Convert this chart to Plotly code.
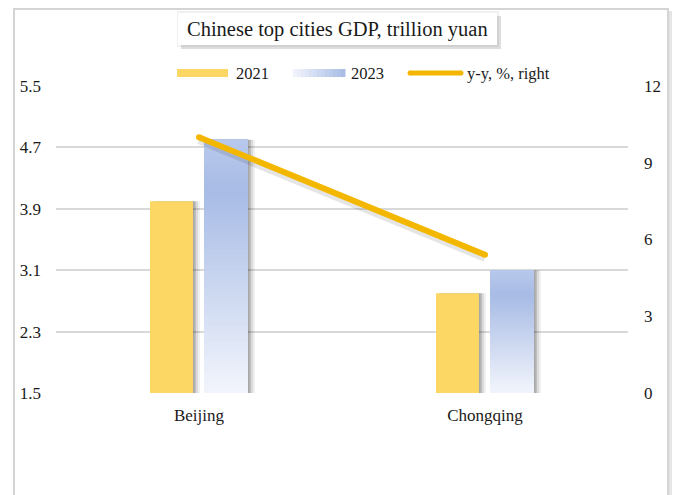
import plotly.graph_objects as go

# ---------------- data ----------------
cities = ["Beijing", "Chongqing"]
gdp_2021 = [4.0, 2.8]
gdp_2023 = [4.8, 3.1]
yoy = [10.0, 5.4]

y_ticks_left = [1.5, 2.3, 3.1, 3.9, 4.7, 5.5]
y_ticks_right = [0, 3, 6, 9, 12]

title_text = "Chinese top cities GDP, trillion yuan"
legend_labels = ["2021", "2023", "y-y, %, right"]

# ---------------- style ----------------
W, H = 675, 495
ML, MR, MT, MB = 56, 47, 86, 102
PW, PH = W - ML - MR, H - MT - MB
FONT = "Liberation Serif"
YELLOW = "#FDD764"
GOLD = "#F4B700"
GRID = "#d9d9d9"
BASE = 1.5
PX = PW / 2.0  # px per category unit

def px2x(px):
    return (px - ML) / PW

def px2y(py):
    return (MT + PH - py) / PH

o21, w21 = -49 / PX, 43 / PX
o23, w23 = 5 / PX, 44 / PX

def lerp(c1, c2, t):
    return tuple(round(a + (b - a) * t) for a, b in zip(c1, c2))

C_BOT = (242, 245, 252)
C_MID = (167, 187, 229)
C_TOP = (185, 201, 236)

def grad_color(f):
    if f <= 0.8:
        c = lerp(C_BOT, C_MID, f / 0.8)
    else:
        c = lerp(C_MID, C_TOP, (f - 0.8) / 0.2)
    return "rgb(%d,%d,%d)" % c

fig = go.Figure()

# bar shadows
for k, a in [(7, 0.06), (5, 0.09), (3, 0.12), (1.5, 0.12)]:
    fig.add_trace(go.Bar(
        x=cities + cities, y=[v - BASE for v in gdp_2021 + gdp_2023], base=BASE,
        offset=[o21 + k / PX] * 2 + [o23 + k / PX] * 2,
        width=[w21] * 2 + [w23] * 2,
        marker=dict(color="rgba(0,0,0,%.2f)" % a, line=dict(width=0)),
        showlegend=False, hoverinfo="skip"))

# 2021 bars
fig.add_trace(go.Bar(
    x=cities, y=[v - BASE for v in gdp_2021], base=BASE, offset=o21, width=w21,
    marker=dict(color=YELLOW, line=dict(width=0)), name="2021", showlegend=False))

# 2023 bars with vertical gradient: nested layers, each from a level up to the bar top
N = 60
gx, gy, gb, gc = [], [], [], []
for i in range(N):
    for ci, v in enumerate(gdp_2023):
        lo = BASE + (v - BASE) * i / N
        gx.append(cities[ci])
        gb.append(lo)
        gy.append(v - lo)
        gc.append(grad_color((i + 0.5) / N))
fig.add_trace(go.Bar(
    x=gx, y=gy, base=gb, offset=o23, width=w23,
    marker=dict(color=gc, line=dict(width=0)), name="2023", showlegend=False,
    hoverinfo="skip"))

# line shadow (on hidden, slightly shifted axis)
fig.add_trace(go.Scatter(
    x=cities, y=yoy, yaxis="y2", mode="lines",
    line=dict(color="rgba(0,0,0,0.10)", width=8), showlegend=False, hoverinfo="skip"))

# y-y line
fig.add_trace(go.Scatter(
    x=cities, y=yoy, yaxis="y3", mode="lines+markers",
    line=dict(color=GOLD, width=6),
    marker=dict(color=GOLD, size=6, line=dict(width=0)),
    name="y-y, %, right", showlegend=False))

shift = 3 * 12 / PH

fig.update_layout(
    width=W, height=H,
    margin=dict(l=ML, r=MR, t=MT, b=MB, pad=0),
    paper_bgcolor="white", plot_bgcolor="white",
    barmode="overlay",
    showlegend=False,
    font=dict(family=FONT, size=17, color="#1a1a1a"),
    xaxis=dict(type="category", categoryarray=cities, range=[-0.5, 1.5],
               showgrid=False, showline=False, zeroline=False, ticks="",
               ticklabelstandoff=10, tickfont=dict(size=17)),
    yaxis=dict(range=[1.5, 5.5], tickvals=y_ticks_left,
               ticktext=["%.1f" % v for v in y_ticks_left],
               showgrid=True, gridcolor=GRID, gridwidth=1.5, zeroline=False,
               showline=False, ticks="", ticklabelstandoff=14, tickfont=dict(size=17)),
    yaxis2=dict(overlaying="y", range=[shift, 12 + shift], visible=False),
    yaxis3=dict(overlaying="y", side="right", range=[0, 12], tickvals=y_ticks_right,
                showgrid=False, zeroline=False, showline=False, ticks="",
                ticklabelstandoff=15, tickfont=dict(size=17)),
)

shapes = []
# outer frame + right shadow
shapes.append(dict(type="rect", xref="paper", yref="paper",
                   x0=px2x(668), x1=px2x(672), y0=px2y(505), y1=px2y(11),
                   line=dict(width=0), fillcolor="rgba(0,0,0,0.10)"))
shapes.append(dict(type="rect", xref="paper", yref="paper",
                   x0=px2x(14), x1=px2x(668), y0=px2y(505), y1=px2y(9),
                   line=dict(color="#d4d4d4", width=2), fillcolor="rgba(0,0,0,0)"))
# title box with shadow
bx0, bx1, by0, by1 = 178, 497, 13, 45
shapes.append(dict(type="rect", xref="paper", yref="paper",
                   x0=px2x(bx0 - 1), x1=px2x(bx1 + 2), y0=px2y(by1 + 2), y1=px2y(by0 - 2),
                   line=dict(width=0), fillcolor="rgba(0,0,0,0.06)"))
shapes.append(dict(type="rect", xref="paper", yref="paper",
                   x0=px2x(bx0 + 3), x1=px2x(bx1 + 4), y0=px2y(by1 + 4), y1=px2y(by0 + 3),
                   line=dict(width=0), fillcolor="rgba(0,0,0,0.13)"))
shapes.append(dict(type="rect", xref="paper", yref="paper",
                   x0=px2x(bx0), x1=px2x(bx1), y0=px2y(by1), y1=px2y(by0),
                   line=dict(width=0), fillcolor="white"))
# legend swatches
ly0, ly1, lyc = 69, 77, 73
shapes.append(dict(type="rect", xref="paper", yref="paper",
                   x0=px2x(177), x1=px2x(228), y0=px2y(ly1), y1=px2y(ly0),
                   line=dict(width=0), fillcolor=YELLOW))
ns = 13
sx0, sx1 = 293, 345
for i in range(ns):
    a = sx0 + (sx1 - sx0) * i / ns
    b = sx0 + (sx1 - sx0) * (i + 1) / ns + 0.5
    shapes.append(dict(type="rect", xref="paper", yref="paper",
                       x0=px2x(a), x1=px2x(b), y0=px2y(ly1), y1=px2y(ly0),
                       line=dict(width=0), fillcolor=grad_color(0.8 * (i + 0.5) / ns)))
shapes.append(dict(type="line", xref="paper", yref="paper",
                   x0=px2x(410), x1=px2x(461), y0=px2y(lyc), y1=px2y(lyc),
                   line=dict(color=GOLD, width=5)))
for cx in (410, 461):
    shapes.append(dict(type="circle", xref="paper", yref="paper",
                       x0=px2x(cx - 2.5), x1=px2x(cx + 2.5),
                       y0=px2y(lyc + 2.5), y1=px2y(lyc - 2.5),
                       line=dict(width=0), fillcolor=GOLD))
fig.update_layout(shapes=shapes)

ann = [dict(text=title_text, xref="paper", yref="paper", x=px2x(337.5), y=px2y(29.5),
            xanchor="center", yanchor="middle", showarrow=False,
            font=dict(family=FONT, size=20.5, color="#1a1a1a"))]
for lbl, lx in zip(legend_labels, [234, 349, 465]):
    ann.append(dict(text=lbl, xref="paper", yref="paper", x=px2x(lx), y=px2y(lyc),
                    xanchor="left", yanchor="middle", showarrow=False,
                    font=dict(family=FONT, size=16.5, color="#1a1a1a")))
fig.update_layout(annotations=ann)

fig.write_html("out.html")
